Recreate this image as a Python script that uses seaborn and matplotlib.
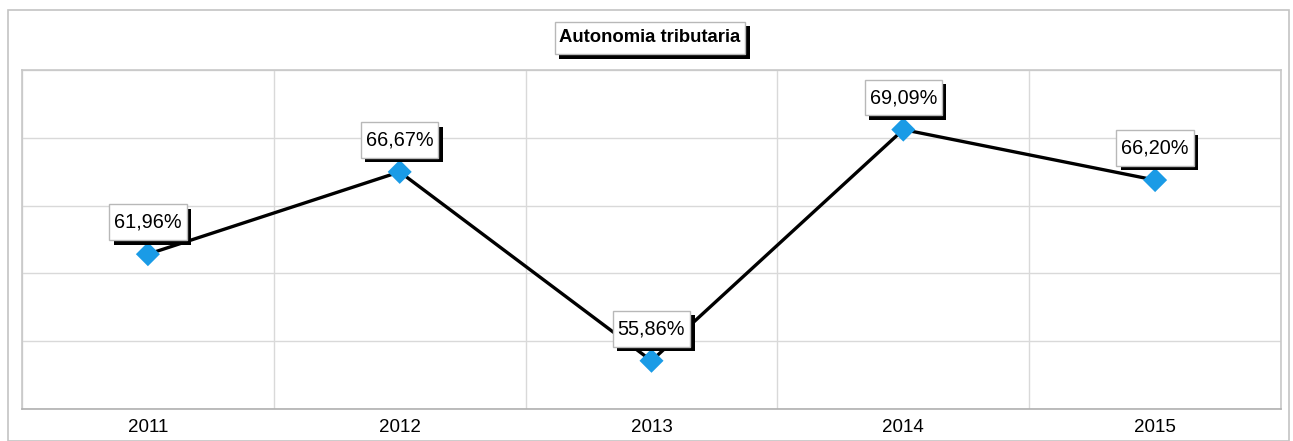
import numpy as np
import pandas as pd
import matplotlib
matplotlib.use("Agg")
import matplotlib.pyplot as plt
import matplotlib.patheffects as pe
from matplotlib.patches import Rectangle
from matplotlib.path import Path
import seaborn as sns

years = ["2011", "2012", "2013", "2014", "2015"]
autonomia = [61.96, 66.67, 55.86, 69.09, 66.20]
labels = ["61,96%", "66,67%", "55,86%", "69,09%", "66,20%"]

df = pd.DataFrame({"anno": years, "valore": autonomia})

sns.set_style("white")
plt.rcParams["font.family"] = ["Liberation Sans", "DejaVu Sans"]
plt.rcParams["text.color"] = "black"
plt.rcParams["xtick.color"] = "black"


def label_box(x0, y0, width, height, mutation_size):
    # rectangular box with more padding top/bottom than left/right
    px, py = 0.25 * mutation_size, 0.42 * mutation_size
    x0, y0 = x0 - px, y0 - py
    x1, y1 = x0 + width + 2 * px, y0 + height + 2 * py
    return Path([(x0, y0), (x1, y0), (x1, y1), (x0, y1), (x0, y0)],
                closed=True)


fig = plt.figure(figsize=(12.93, 4.41), dpi=100)
W, H = 1293, 441
ax = fig.add_axes([22 / W, 1 - 409 / H, (1281 - 22) / W, (409 - 70) / H])

# outer chart frame
fig.patches.append(Rectangle((8 / W, 0), (1289 - 8) / W, 1 - 10 / H,
                             transform=fig.transFigure, fill=False,
                             edgecolor="#c4c4c4", linewidth=1.2))

sns.lineplot(data=df, x="anno", y="valore", ax=ax, color="black",
             linewidth=2.4, sort=False, zorder=3)
sns.scatterplot(data=df, x="anno", y="valore", ax=ax, marker="D", s=150,
                color="#1a9be6", edgecolor="none", zorder=4)

ax.set_xlim(-0.5, 4.5)
ymin, ymax = 53.1, 72.5
ax.set_ylim(ymin, ymax)
ax.set_yticks(np.linspace(ymin, ymax, 6))
ax.set_yticklabels([])
ax.tick_params(axis="y", length=0)
ax.set_xticks(range(len(years)))
ax.set_xticklabels(years, fontsize=13.5)
ax.set_xticks(np.arange(-0.5, 5, 1), minor=True)
ax.tick_params(axis="x", which="major", length=0, pad=7, labelcolor="black")
ax.tick_params(axis="x", which="minor", length=11.5, color="#d0d0d0", width=1)
ax.grid(True, axis="y", color="#d9d9d9", linewidth=1)
ax.grid(True, axis="x", which="minor", color="#d9d9d9", linewidth=1)
ax.grid(False, axis="x", which="major")
ax.set_xlabel("")
ax.set_ylabel("")
for side, sp in ax.spines.items():
    sp.set_color("#c8c8c8")
    sp.set_linewidth(1.2)
ax.spines["bottom"].set_color("#b0b0b0")

shadow = [pe.SimplePatchShadow(offset=(3.2, -3.2), shadow_rgbFace="black", alpha=1),
          pe.Normal()]

for i, (v, lab) in enumerate(zip(autonomia, labels)):
    t = ax.annotate(lab, (i, v), xytext=(0, 23), textcoords="offset points",
                    ha="center", va="center", fontsize=14.3, color="black",
                    zorder=5,
                    bbox=dict(boxstyle=label_box, facecolor="white",
                              edgecolor="#b8b8b8", linewidth=1))
    t.get_bbox_patch().set_path_effects(shadow)

tt = fig.text(650 / W, 1 - 38 / H, "Autonomia tributaria", ha="center",
              va="center", fontsize=13.3, fontweight="bold", color="black",
              bbox=dict(boxstyle=label_box, facecolor="white",
                        edgecolor="#b8b8b8", linewidth=1))
tt.get_bbox_patch().set_path_effects(shadow)

fig.savefig("out.png", dpi=100)
